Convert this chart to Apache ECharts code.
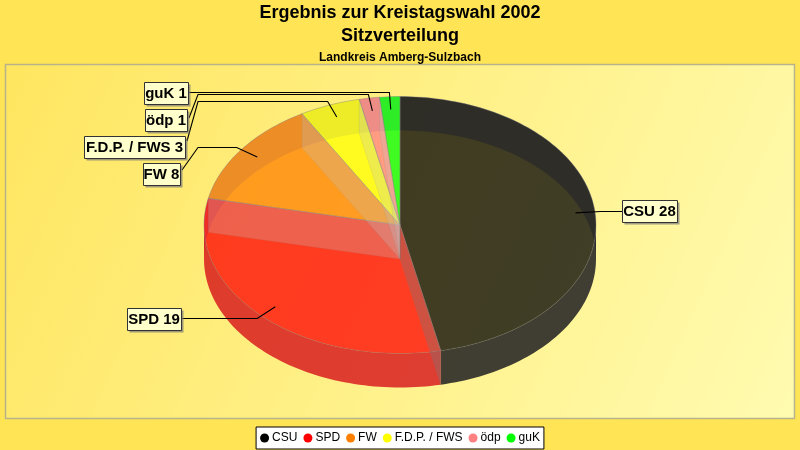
<!DOCTYPE html>
<html><head><meta charset="utf-8">
<style>html,body{margin:0;padding:0;background:#fff}#c{width:800px;height:450px}</style>
<script src="https://cdn.jsdelivr.net/npm/echarts@6/dist/echarts.min.js"></script>
</head><body><div id="c"></div>
<script>
const parties = ['CSU','SPD','FW','F.D.P. / FWS','ödp','guK'];
const seats = [28,19,8,3,1,1];
const colors = ['#000000','#ff0000','#ff8000','#ffff00','#ff8080','#00ff00'];
const sideColors = ['#000011','#d30011','#d36a00','#d3d300','#d36a6a','#00d300'];
const titleLines = ['Ergebnis zur Kreistagswahl 2002','Sitzverteilung','Landkreis Amberg-Sulzbach'];
// label boxes: left, top, right, bottom, and the point on the box where the leader ends
const labelBoxes = [
 {l:622,t:200,r:677,b:222,end:[622,211.5]},
 {l:127,t:308,r:181,b:330,end:[181,318.5]},
 {l:143,t:163,r:180,b:185,end:[182,170]},
 {l:84,t:136,r:185,b:158,end:[187,141]},
 {l:145,t:109,r:187,b:131,end:[189,118]},
 {l:144,t:82,r:188,b:104,end:[188,92.5]}
];
// x of the leader's second bend (label side), null when there is none
const bendX = [null,null,198,198,198,null];

const CX=400, CY=225, RX=196, RY=128.5, DEPTH=34, ALPHA=0.75;
const total = seats.reduce((a,b)=>a+b,0);
const edges=[]; let acc=0;
seats.forEach(v=>{edges.push([90-acc/total*360,90-(acc+v)/total*360]);acc+=v;});
const P=(deg,dy=0,r=1)=>[CX+RX*r*Math.cos(deg*Math.PI/180),CY+dy-RY*r*Math.sin(deg*Math.PI/180)];
const arc=(a,b,dy=0)=>{const n=Math.max(2,Math.ceil(Math.abs(a-b)/1.5));const o=[];for(let i=0;i<=n;i++)o.push(P(a+(b-a)*i/n,dy));return o;};
const rgba=(hex,a)=>{const n=parseInt(hex.slice(1),16);return `rgba(${n>>16},${(n>>8)&255},${n&255},${a})`;};
const poly=(pts,fill,stroke,w)=>({type:'polygon',shape:{points:pts},style:{fill,stroke:stroke||null,lineWidth:w||0}});
const rangeClip=(s,e,lo,hi)=>{ const a=Math.min(s,hi), b=Math.max(e,lo); return a>b?[a,b]:null;};

const wallSeries={type:'custom',coordinateSystem:'none',silent:true,z:2,data:[0],
 renderItem(){
  const ch=[];
  ch.push(poly(arc(0,180).concat(arc(180,0,DEPTH)),`rgba(160,160,160,${ALPHA})`));
  edges.forEach((e,i)=>{
    const c=rangeClip(e[0],e[1],-180,0);
    if(c) ch.push(poly(arc(c[0],c[1]).concat(arc(c[1],c[0],DEPTH)),rgba(sideColors[i],ALPHA)));
  });
  return {type:'group',children:ch};
 }};
const sliceSeries=parties.map((name,i)=>({
 type:'custom',name,coordinateSystem:'none',silent:true,z:3,data:[seats[i]],
 itemStyle:{color:colors[i]},
 renderItem(){
  const e=edges[i];
  return poly([[CX,CY]].concat(arc(e[0],e[1])),rgba(colors[i],ALPHA),'rgba(130,130,130,0.5)',0.7);
 }}));
const radialSeries={type:'custom',coordinateSystem:'none',silent:true,z:4,data:[0],
 renderItem(){
  const ch=[];
  edges.forEach((e,i)=>{
    const a=e[1];
    const front=i===0;
    const pts=[[CX,CY],P(a),P(a,DEPTH),[CX,CY+DEPTH]];
    ch.push(poly(pts,front?'rgba(120,120,120,0.37)':'rgba(193,193,193,0.28)','rgba(130,130,130,0.25)',0.5));
  });
  return {type:'group',children:ch};
 }};
const labelSeries={type:'custom',coordinateSystem:'none',silent:true,z:6,data:[0],
 renderItem(){
  const ch=[];
  parties.forEach((name,i)=>{
    const b=labelBoxes[i], mid=(edges[i][0]+edges[i][1])/2;
    const a=P(mid,0,0.9), el0=P(mid,0,1.03);
    const el=[el0[0],Math.floor(el0[1])+.5];
    const pts=[a,el];
    if(bendX[i]!==null) pts.push([bendX[i],el[1]]);
    pts.push(b.end);
    ch.push({type:'polyline',shape:{points:pts},style:{stroke:'#000',lineWidth:1.1,fill:null}});
    ch.push({type:'rect',shape:{x:b.l+2.5,y:b.t+2.5,width:b.r-b.l,height:b.b-b.t},style:{fill:'rgba(120,120,120,0.7)'}});
    ch.push({type:'rect',shape:{x:b.l+.5,y:b.t+.5,width:b.r-b.l,height:b.b-b.t},style:{fill:'#ffffcc',stroke:'#333',lineWidth:1}});
    ch.push({type:'text',style:{x:(b.l+b.r)/2,y:(b.t+b.b)/2+1,text:name+' '+seats[i],align:'center',verticalAlign:'middle',font:'bold 15px "Liberation Sans"',fill:'#000'}});
  });
  return {type:'group',children:ch};
 }};
const chart=echarts.init(document.getElementById('c'),null,{renderer:'canvas'});
chart.setOption({
 animation:false,
 backgroundColor:'#ffe455',
 title:[
  {text:titleLines[0],left:'center',top:-1,textStyle:{fontFamily:'Liberation Sans',fontWeight:'bold',fontSize:18,color:'#000'}},
  {text:titleLines[1],left:'center',top:22,textStyle:{fontFamily:'Liberation Sans',fontWeight:'bold',fontSize:18,color:'#000'}},
  {text:titleLines[2],left:'center',top:47,textStyle:{fontFamily:'Liberation Sans',fontWeight:'bold',fontSize:12,color:'#000'}}
 ],
 legend:{data:parties,bottom:1,left:'center',icon:'circle',itemWidth:9,itemHeight:9,itemGap:6,padding:[5,4,5,4],
  backgroundColor:'#fff',borderColor:'#000',borderWidth:1,borderRadius:0,selectedMode:false,
  textStyle:{fontFamily:'Liberation Sans',fontSize:12,color:'#000',padding:[0,0,0,-2]}},
 graphic:[{type:'rect',z:0,shape:{x:5.5,y:64.5,width:789,height:354},
  style:{stroke:'#b8b38a',lineWidth:1.5,fill:new echarts.graphic.LinearGradient(0,0,1,1,[{offset:0,color:'#ffe660'},{offset:1,color:'#fffbb0'}])}}],
 series:[wallSeries,...sliceSeries,radialSeries,labelSeries]
});
</script></body></html>
